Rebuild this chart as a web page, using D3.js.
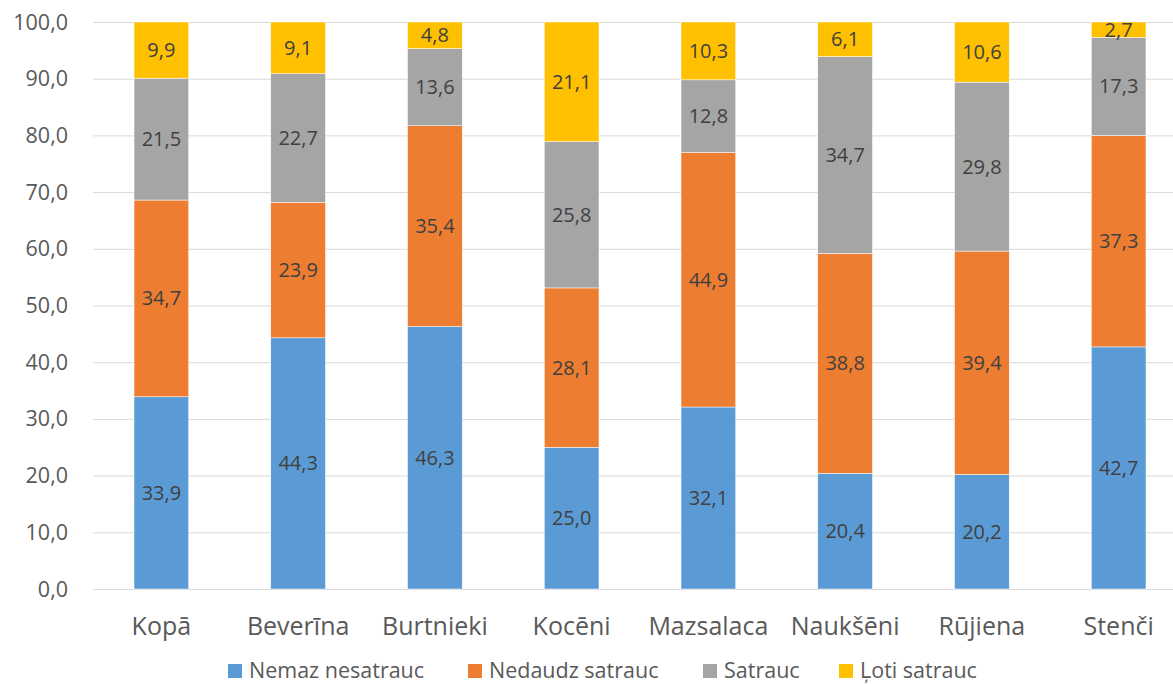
<!DOCTYPE html>
<html>
<head>
<meta charset="utf-8">
<script src="https://cdn.jsdelivr.net/npm/d3@7"></script>
<style>
  body { margin: 0; background: #fff; }
  svg { display: block; font-family: "Open Sans", sans-serif; }
</style>
</head>
<body>
<svg id="chart"></svg>
<script>
const categories = ['Kopā', 'Beverīna', 'Burtnieki', 'Kocēni', 'Mazsalaca', 'Naukšēni', 'Rūjiena', 'Stenči'];
const seriesNames = ['Nemaz nesatrauc', 'Nedaudz satrauc', 'Satrauc', 'Ļoti satrauc'];
const nemaz   = [33.9, 44.3, 46.3, 25.0, 32.1, 20.4, 20.2, 42.7];
const nedaudz = [34.7, 23.9, 35.4, 28.1, 44.9, 38.8, 39.4, 37.3];
const satrauc = [21.5, 22.7, 13.6, 25.8, 12.8, 34.7, 29.8, 17.3];
const loti    = [9.9, 9.1, 4.8, 21.1, 10.3, 6.1, 10.6, 2.7];
const yTicks = [0, 10, 20, 30, 40, 50, 60, 70, 80, 90, 100];
const colors = ['#5B9BD5', '#ED7D31', '#A5A5A5', '#FFC000'];

const width = 1173, height = 684;
const margin = {top: 22, right: -14, bottom: 95, left: 93};

const rows = categories.map((c, i) => ({
    cat: c, s0: nemaz[i], s1: nedaudz[i], s2: satrauc[i], s3: loti[i]
}));
const keys = ['s0', 's1', 's2', 's3'];
const stacked = d3.stack().keys(keys)(rows);

const svg = d3.select('#chart').attr('width', width).attr('height', height);

const x = d3.scaleBand()
    .domain(categories)
    .range([margin.left, width - margin.right])
    .paddingInner(0.6)
    .paddingOuter(0.3);

const y = d3.scaleLinear()
    .domain([0, 100])
    .range([height - margin.bottom, margin.top]);

// gridlines
svg.append('g')
    .selectAll('line')
    .data(yTicks)
    .join('line')
    .attr('x1', margin.left)
    .attr('x2', width - margin.right)
    .attr('y1', d => y(d) + 0.5)
    .attr('y2', d => y(d) + 0.5)
    .attr('stroke', '#d9d9d9')
    .attr('stroke-width', 1);

// y tick labels
svg.append('g')
    .selectAll('text')
    .data(yTicks)
    .join('text')
    .attr('x', 68)
    .attr('y', d => y(d))
    .attr('dy', '0.35em')
    .attr('text-anchor', 'end')
    .attr('fill', '#595959')
    .style('font-size', '21.5px')
    .text(d => d.toFixed(1).replace('.', ','));

// bars
const layers = svg.append('g')
    .selectAll('g')
    .data(stacked)
    .join('g')
    .attr('fill', (d, i) => colors[i]);

layers.selectAll('rect')
    .data(d => d)
    .join('rect')
    .attr('x', d => x(d.data.cat))
    .attr('width', x.bandwidth())
    .attr('y', d => y(Math.min(d[1], 100)))
    .attr('height', d => y(d[0]) - y(Math.min(d[1], 100)))
    .attr('stroke', '#fff')
    .attr('stroke-width', 0.5);

// data labels
layers.selectAll('text')
    .data(d => d)
    .join('text')
    .attr('x', d => x(d.data.cat) + x.bandwidth() / 2)
    .attr('y', d => (y(d[0]) + y(Math.min(d[1], 100))) / 2)
    .attr('dy', '0.35em')
    .attr('text-anchor', 'middle')
    .attr('fill', '#404040')
    .style('font-size', '20px')
    .text(d => (d[1] - d[0]).toFixed(1).replace('.', ','));

// category labels
svg.append('g')
    .selectAll('text')
    .data(categories)
    .join('text')
    .attr('x', d => x(d) + x.bandwidth() / 2)
    .attr('y', 635)
    .attr('text-anchor', 'middle')
    .attr('fill', '#595959')
    .style('font-size', '25px')
    .text(d => d);

// legend
const legendX = [228, 468, 703, 839];
const legend = svg.append('g')
    .selectAll('g')
    .data(seriesNames)
    .join('g')
    .attr('transform', (d, i) => `translate(${legendX[i]}, 678)`);

legend.append('rect')
    .attr('x', 0)
    .attr('y', -14)
    .attr('width', 14)
    .attr('height', 14)
    .attr('fill', (d, i) => colors[i]);

legend.append('text')
    .attr('x', 21)
    .attr('y', 0)
    .attr('fill', '#595959')
    .style('font-size', '21.5px')
    .text(d => d);
</script>
</body>
</html>
